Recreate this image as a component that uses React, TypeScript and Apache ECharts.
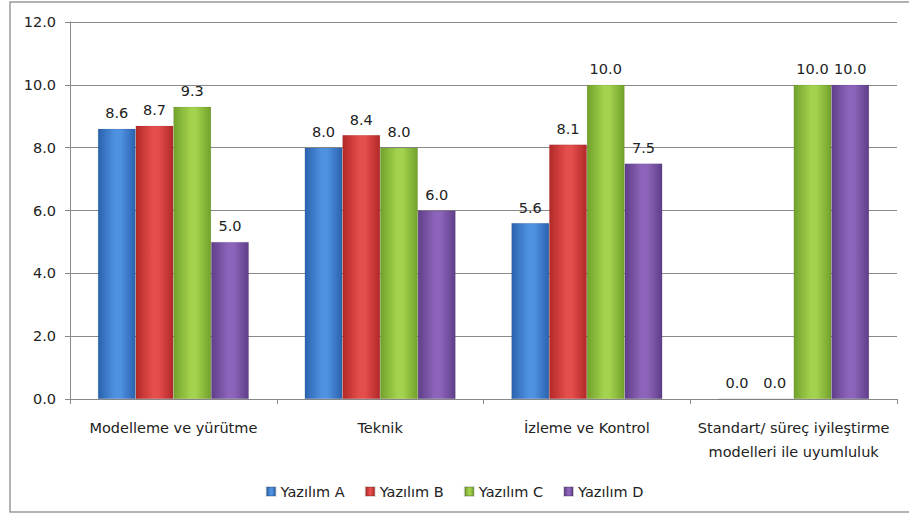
import React, { useEffect, useRef } from "react";
import * as echarts from "echarts";

const categories = [
  "Modelleme ve yürütme",
  "Teknik",
  "İzleme ve Kontrol",
  "Standart/ süreç iyileştirme\nmodelleri ile uyumluluk",
];
const seriesNames = ["Yazılım A", "Yazılım B", "Yazılım C", "Yazılım D"];
const valuesA = [8.6, 8.0, 5.6, 0.0];
const valuesB = [8.7, 8.4, 8.1, 0.0];
const valuesC = [9.3, 8.0, 10.0, 10.0];
const valuesD = [5.0, 6.0, 7.5, 10.0];
const yTicks = { min: 0, max: 12, interval: 2 };

const palette = [
  { edge: "#2a62ad", mid: "#4f92e2" },
  { edge: "#b32828", mid: "#e44e4c" },
  { edge: "#72a12b", mid: "#a3d24e" },
  { edge: "#5f3e89", mid: "#8d64bb" },
];

const FONT = "'DejaVu Sans', sans-serif";
const FS = 14.5;

function grad(c: { edge: string; mid: string }) {
  return new echarts.graphic.LinearGradient(0, 0, 1, 0, [
    { offset: 0, color: c.edge },
    { offset: 0.45, color: c.mid },
    { offset: 0.6, color: c.mid },
    { offset: 1, color: c.edge },
  ]);
}

export default function App() {
  const ref = useRef<HTMLDivElement>(null);
  useEffect(() => {
    if (!ref.current) return;
    const chart = echarts.init(ref.current, undefined, { renderer: "svg" });
    const all = [valuesA, valuesB, valuesC, valuesD];
    chart.setOption({
      animation: false,
      backgroundColor: "#ffffff",
      textStyle: { fontFamily: FONT },
      graphic: [
        {
          type: "rect",
          shape: { x: 10, y: 2, width: 960, height: 510 },
          style: { fill: "none", stroke: "#9a9a9a", lineWidth: 1.5 },
          silent: true,
        },
      ],
      grid: { left: 70, right: 12, top: 22, bottom: 118 },
      legend: {
        top: 479,
        left: "center",
        icon: "rect",
        itemWidth: 9,
        itemHeight: 9,
        itemGap: 20,
        textStyle: { fontSize: FS, color: "#222", fontFamily: FONT },
        data: seriesNames,
      },
      xAxis: {
        type: "category",
        data: categories,
        axisLine: { lineStyle: { color: "#888", width: 1 } },
        axisTick: { show: true, length: 5, lineStyle: { color: "#888" } },
        axisLabel: {
          color: "#222",
          fontSize: FS,
          margin: 17,
          lineHeight: 24,
          fontFamily: FONT,
          interval: 0,
        },
      },
      yAxis: {
        type: "value",
        min: yTicks.min,
        max: yTicks.max,
        interval: yTicks.interval,
        axisLine: { show: true, lineStyle: { color: "#888", width: 1 } },
        axisTick: { show: true, length: 5, lineStyle: { color: "#888" } },
        splitLine: { lineStyle: { color: "#8a8a8a", width: 1 } },
        axisLabel: {
          color: "#222",
          fontSize: FS,
          margin: 14,
          fontFamily: FONT,
          formatter: (v: number) => v.toFixed(1),
        },
      },
      series: seriesNames.map((name, i) => ({
        name,
        type: "bar",
        data: all[i],
        barGap: "0%",
        barCategoryGap: "27%",
        itemStyle: { color: grad(palette[i]), borderColor: "rgba(0,0,0,0.15)", borderWidth: 0.5 },
        label: {
          show: true,
          position: "top",
          distance: 8,
          color: "#222",
          fontSize: FS,
          fontFamily: FONT,
          formatter: (p: any) => Number(p.value).toFixed(1),
        },
      })),
    });
    return () => chart.dispose();
  }, []);
  return (
    <div
      ref={ref}
      style={{ position: "fixed", left: 0, top: 0, width: 909, height: 517 }}
    />
  );
}
